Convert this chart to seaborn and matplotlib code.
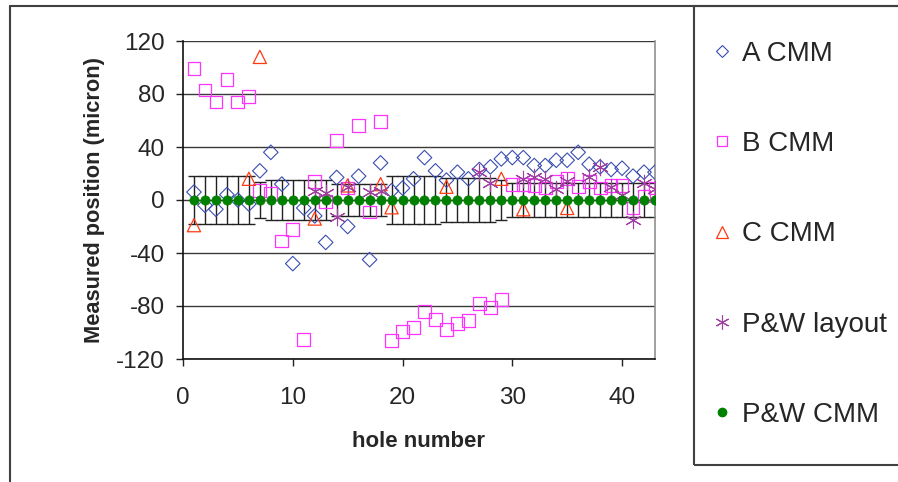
import matplotlib
matplotlib.use("Agg")
import matplotlib.pyplot as plt
from matplotlib.lines import Line2D
from matplotlib.patches import Rectangle
import pandas as pd
import seaborn as sns

# ── data ─────────────────────────────────────────────────────────────────────
holes = list(range(1, 44))

a_cmm = [6, -4, -7, 4, 0, -3, 22, 36, 12, -48, -6, -12, -32, 17, -20, 18, -45,
         28, 7, 9, 16, 32, 22, 15, 21, 16, 23, 25, 31, 32, 32, 26, 26, 30, 30,
         36, 27, 25, 23, 24, 18, 21, 21]

b_cmm = [99, 83, 74, 91, 74, 78, 7, 5, -31, -22, -105, 14, -1, 45, 9, 56, -9,
         59, -106, -99, -96, -84, -90, -98, -93, -91, -78, -81, -75, 12, 12, 11,
         9, 14, 16, 10, 14, 9, 11, 11, -6, 3, 9]

c_holes = [1, 6, 7, 12, 15, 18, 19, 24, 29, 31, 35]
c_cmm = [-19, 16, 108, -14, 11, 12, -5.5, 10, 16, -7, -6]

layout_holes = [12, 13, 14, 15, 17, 18, 27, 28, 31, 32, 33, 34, 35, 37, 38,
                39, 40, 41, 42, 43]
pw_layout = [7, 5, -13, 10, 6, 7, 21, 13, 16, 17, 16, 8, 14, 17, 25, 10, 4,
             -15, 13, 8]

pw_cmm = [0, 0, 0, 0, 0, 0, 0, 0, 0, 0, 0, 0, 0, 0, 0, 0, 0, 0, 0, 0, 0, 0,
          0, 0, 0, 0, 0, 0, 0, 0, 0, 0, 0, 0, 0, 0, 0, 0, 0, 0, 0, 0, 0]
pw_err = [18, 18, 18, 18, 18, 18, 13.5, 15, 15, 15, 15, 15, 15, 12, 12, 12, 12,
          12, 18, 18, 18, 18, 18, 16.5, 16.5, 16.5, 16.5, 16.5, 15, 12.5, 12.5,
          12.5, 12.5, 12.5, 12.5, 12.5, 12.5, 12.5, 12.5, 12.5, 12.5, 12.5, 12.5]

y_ticks = [-120, -80, -40, 0, 40, 80, 120]
x_ticks = [0, 10, 20, 30, 40]

COLORS = {
    "A CMM": "#3a4db0",
    "B CMM": "#ff33ff",
    "C CMM": "#ff3a10",
    "P&W layout": "#a040a0",
    "P&W CMM": "#008000",
}
ASTERISK = (6, 2, 0)

# ── style ────────────────────────────────────────────────────────────────────
sns.set_style("white")
plt.rcParams["font.family"] = ["Liberation Sans", "DejaVu Sans"]
plt.rcParams["axes.unicode_minus"] = False

fig = plt.figure(figsize=(8.98, 4.82), dpi=100)
ax = fig.add_axes([183 / 898, 1 - 359 / 482, (655 - 183) / 898, (359 - 41) / 482])

# horizontal gridlines
for v in y_ticks:
    ax.axhline(v, color="#3a3a3a", lw=1.0, zorder=0)

# error bars on the P&W CMM series
ax.errorbar(holes, pw_cmm, yerr=pw_err, fmt="none", ecolor="#222222",
            elinewidth=1.0, capsize=4.5, capthick=1.0, zorder=1)

df_a = pd.DataFrame({"hole": holes, "value": a_cmm})
df_b = pd.DataFrame({"hole": holes, "value": b_cmm})
df_c = pd.DataFrame({"hole": c_holes, "value": c_cmm})
df_l = pd.DataFrame({"hole": layout_holes, "value": pw_layout})
df_p = pd.DataFrame({"hole": holes, "value": pw_cmm})

sns.scatterplot(data=df_a, x="hole", y="value", marker="D", s=55,
                color=COLORS["A CMM"], facecolor="none",
                edgecolor=COLORS["A CMM"], linewidth=0.8, ax=ax, zorder=3)
sns.scatterplot(data=df_b, x="hole", y="value", marker="s", s=85,
                color=COLORS["B CMM"], facecolor="none",
                edgecolor=COLORS["B CMM"], linewidth=0.9, ax=ax, zorder=3)
sns.scatterplot(data=df_c, x="hole", y="value", marker="^", s=90,
                color=COLORS["C CMM"], facecolor="none",
                edgecolor=COLORS["C CMM"], linewidth=0.9, ax=ax, zorder=3)
sns.scatterplot(data=df_l, x="hole", y="value", marker=ASTERISK, s=140,
                color=COLORS["P&W layout"], linewidth=0.8, ax=ax, zorder=3)
sns.scatterplot(data=df_p, x="hole", y="value", marker="o", s=45,
                color=COLORS["P&W CMM"], edgecolor=COLORS["P&W CMM"],
                linewidth=0.5, ax=ax, zorder=4)

ax.set_xlim(0, 43)
ax.set_ylim(-120, 120)
ax.set_xticks(x_ticks)
ax.set_xticklabels([str(t) for t in x_ticks], fontsize=17.5)
ax.set_yticks(y_ticks)
ax.set_yticklabels([str(t) for t in y_ticks], fontsize=17.5)
ax.tick_params(axis="both", direction="out", length=5, width=1, color="#222222",
               pad=8, bottom=True, left=True)
ax.tick_params(axis="x", pad=15)

ax.set_xlabel("hole number", fontsize=16, fontweight="bold", labelpad=16)
ax.set_ylabel("Measured position (micron)", fontsize=15.7, fontweight="bold",
              labelpad=8)

for side in ["left", "bottom"]:
    ax.spines[side].set_color("#111111")
    ax.spines[side].set_linewidth(1.2)
ax.spines["right"].set_color("#909090")
ax.spines["right"].set_linewidth(1.2)
ax.spines["top"].set_visible(False)

# outer chart frame and legend box
fig.add_artist(Line2D([10 / 898, 1], [1 - 6 / 482, 1 - 6 / 482],
                      transform=fig.transFigure, color="#404040", lw=1.5))
fig.add_artist(Line2D([10 / 898, 10 / 898], [0, 1 - 6 / 482],
                      transform=fig.transFigure, color="#404040", lw=1.5))
fig.add_artist(Rectangle((694 / 898, 1 - 465 / 482), 0.5, 465 / 482 - 6 / 482,
                         transform=fig.transFigure, fill=False,
                         edgecolor="#404040", lw=1.5))

handles = [
    Line2D([], [], ls="", marker="D", ms=6, mfc="none", mec=COLORS["A CMM"], mew=0.8),
    Line2D([], [], ls="", marker="s", ms=7, mfc="none", mec=COLORS["B CMM"], mew=0.9),
    Line2D([], [], ls="", marker="^", ms=8, mfc="none", mec=COLORS["C CMM"], mew=0.9),
    Line2D([], [], ls="", marker=ASTERISK, ms=10, mec=COLORS["P&W layout"], mew=0.8),
    Line2D([], [], ls="", marker="o", ms=6, mfc=COLORS["P&W CMM"], mec=COLORS["P&W CMM"]),
]
labels = list(COLORS.keys())
fig.legend(handles, labels, loc="upper left",
           bbox_to_anchor=(714 / 898, 1 - 41 / 482), frameon=False,
           fontsize=20, handlelength=0.6, handletextpad=0.4,
           labelspacing=2.31, borderaxespad=0, borderpad=0)

fig.savefig("out.png", dpi=100)
